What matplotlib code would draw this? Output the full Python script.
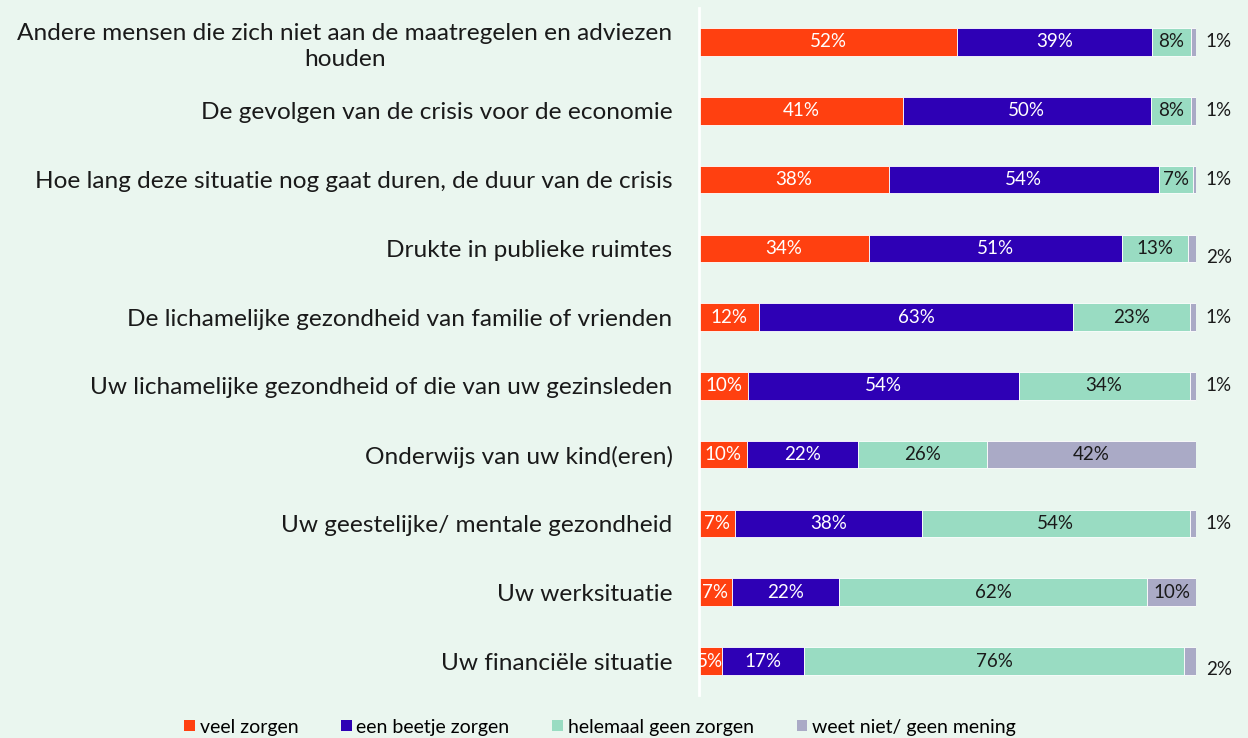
import matplotlib
matplotlib.use("Agg")
import matplotlib.pyplot as plt
from matplotlib.patches import Patch
import numpy as np

categories = [
    "Andere mensen die zich niet aan de maatregelen en adviezen\nhouden",
    "De gevolgen van de crisis voor de economie",
    "Hoe lang deze situatie nog gaat duren, de duur van de crisis",
    "Drukte in publieke ruimtes",
    "De lichamelijke gezondheid van familie of vrienden",
    "Uw lichamelijke gezondheid of die van uw gezinsleden",
    "Onderwijs van uw kind(eren)",
    "Uw geestelijke/ mentale gezondheid",
    "Uw werksituatie",
    "Uw financiële situatie",
]
series_names = ["veel zorgen", "een beetje zorgen", "helemaal geen zorgen", "weet niet/ geen mening"]
veel = [51.9, 41.0, 38.2, 34.2, 12.1, 9.9, 9.7, 7.2, 6.6, 4.6]
beetje = [39.2, 49.9, 54.3, 50.9, 63.2, 54.4, 22.3, 37.6, 21.6, 16.6]
geen = [7.8, 8.1, 6.8, 13.3, 23.4, 34.4, 26.0, 53.9, 62.0, 76.4]
weetniet = [1.1, 1.0, 0.7, 1.6, 1.3, 1.3, 42.0, 1.3, 9.8, 2.4]
labels_weetniet = ["1%", "1%", "1%", "2%", "1%", "1%", "42%", "1%", "10%", "2%"]

colors = ["#FF4010", "#2E00B5", "#99DCC2", "#AAAAC6"]
text_colors = ["white", "white", "#1a1a1a", "#1a1a1a"]
bg = "#EAF6EF"

plt.rcParams['font.family'] = ['Lato', 'DejaVu Sans']

fig = plt.figure(figsize=(12.48, 7.38), dpi=100, facecolor=bg)
ax = fig.add_axes([699/1248, 1-695.4/738, 497/1248, 687.8/738], facecolor=bg)

data = [veel, beetje, geen, weetniet]
y = np.arange(len(categories))
left = np.zeros(len(categories))
for s, (vals, col, tc) in enumerate(zip(data, colors, text_colors)):
    vals = np.array(vals)
    ax.barh(y, vals, left=left, height=0.4, color=col, edgecolor="white", linewidth=0.6)
    for i, v in enumerate(vals):
        if s < 3:
            lab = f"{v:.0f}%"
        else:
            lab = labels_weetniet[i]
        if s == 3 and v < 5:
            dy = 0.13 if lab == "2%" else 0.0
            ax.text(100 + 4.6, y[i] + dy, lab, ha="center", va="center",
                    fontsize=13.5, color="#1a1a1a")
        else:
            ax.text(left[i] + v/2, y[i], lab, ha="center", va="center",
                    fontsize=13.5, color=tc)
    left += vals

ax.set_xlim(0, 100)
ax.set_ylim(len(categories) - 0.5, -0.5)
ax.set_yticks(y)
ax.set_yticklabels(categories, fontsize=17.6, multialignment="center", color="#1a1a1a",
                   linespacing=1.3)
ax.tick_params(axis="y", length=0, pad=19)
ax.set_xticks([])
for sp in ["top", "right", "bottom"]:
    ax.spines[sp].set_visible(False)
ax.spines["left"].set_color("white")
ax.spines["left"].set_linewidth(2)

handles = [Patch(facecolor=c, edgecolor="none") for c in colors]
fig.legend(handles, series_names, loc="center", bbox_to_anchor=(600/1248, 1-727/738),
           ncol=4, frameon=False, fontsize=14, handlelength=0.55, handleheight=0.55,
           handletextpad=0.25, columnspacing=2.2)

fig.savefig("out.png", dpi=100, facecolor=bg)
